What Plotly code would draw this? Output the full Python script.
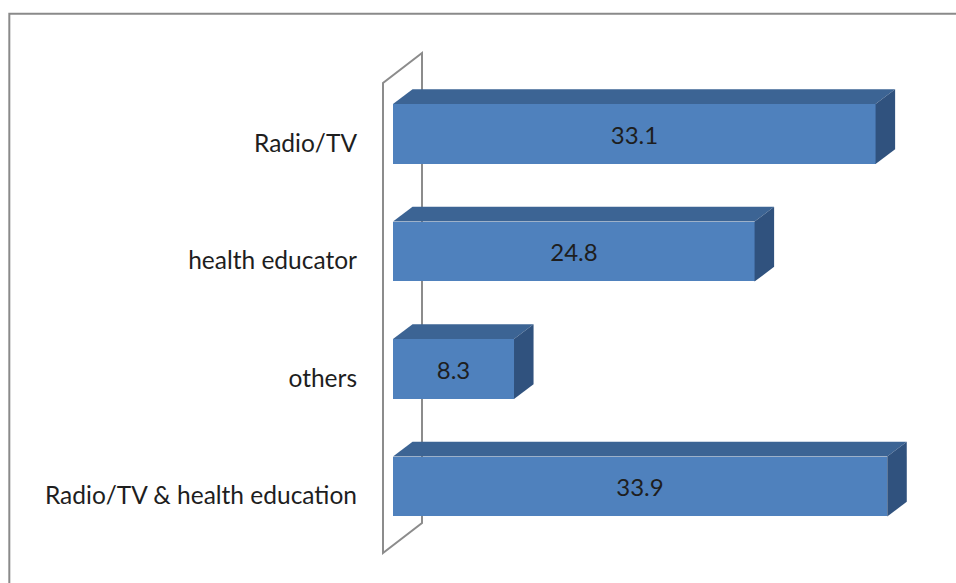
import plotly.graph_objects as go

# Sources of information (percent)
categories = ["Radio/TV", "health educator", "others", "Radio/TV & health education"]
values = [33.1, 24.8, 8.3, 33.9]
value_labels = ["33.1", "24.8", "8.3", "33.9"]

# Row positions, top row highest
rows = [3, 2, 1, 0]

FRONT = "#4F81BD"
TOP = "#3C6494"
SIDE = "#30527E"
WALL = "#8C8C8C"
FONT = "Lato"

BAR_W = 0.51          # bar thickness in row units
DX, DY = 1.34, 0.125  # 3-D depth offset in axis units
X_RANGE = [-1.372, 37.93]
Y_RANGE = [-0.6255, 3.80]

fig = go.Figure()

# front faces of the bars
fig.add_trace(go.Bar(
    x=values, y=rows, orientation="h", width=BAR_W,
    marker=dict(color=FRONT, line=dict(width=0)),
    text=value_labels, textposition="inside", insidetextanchor="middle",
    textangle=0, textfont=dict(family=FONT, size=24, color="#1E1E1E"),
    hoverinfo="skip", showlegend=False,
))

# top and side faces give the 3-D look
for v, r in zip(values, rows):
    top = r + BAR_W / 2
    bot = r - BAR_W / 2
    fig.add_trace(go.Scatter(
        x=[0, v, v + DX, DX, 0], y=[top, top, top + DY, top + DY, top],
        fill="toself", fillcolor=TOP, mode="lines", line=dict(width=0, color=TOP),
        hoverinfo="skip", showlegend=False,
    ))
    fig.add_trace(go.Scatter(
        x=[v, v + DX, v + DX, v, v], y=[bot, bot + DY, top + DY, top, bot],
        fill="toself", fillcolor=SIDE, mode="lines", line=dict(width=0, color=SIDE),
        hoverinfo="skip", showlegend=False,
    ))

# back wall of the chart (thin slab behind the bars)
wl, wr = -0.686, 1.989
wall_path = (f"M {wl},{3.434} L {wl},{-0.566} L {wr},{-0.311} "
             f"L {wr},{3.689} Z")

shapes = [
    dict(type="path", path=wall_path, xref="x", yref="y", layer="below",
         line=dict(color=WALL, width=2)),
    # chart frame (runs past the right and bottom edges)
    dict(type="rect", xref="paper", yref="paper", x0=-0.6347, x1=1.2,
         y0=-0.3, y1=1.0506, line=dict(color="#8A8A8A", width=2),
         fillcolor="rgba(0,0,0,0)"),
]

label_shift = 9 / 117.5
fig.update_layout(
    width=956, height=583,
    margin=dict(l=373, r=10, t=40, b=23),
    paper_bgcolor="white", plot_bgcolor="white",
    shapes=shapes,
    xaxis=dict(range=X_RANGE, visible=False, fixedrange=True),
    yaxis=dict(range=Y_RANGE, tickmode="array",
               tickvals=[r - label_shift for r in rows], ticktext=categories,
               showgrid=False, zeroline=False, showline=False, ticks="",
               ticklabelstandoff=15,
               tickfont=dict(family=FONT, size=24.5, color="#1E1E1E")),
    bargap=0,
)

fig.write_html("out.html")
